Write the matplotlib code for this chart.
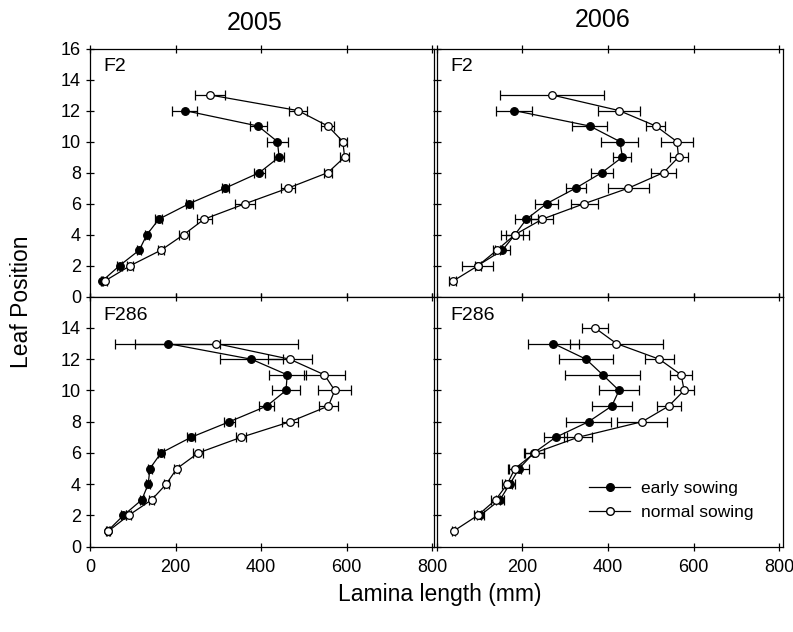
import matplotlib
matplotlib.use('Agg')
import matplotlib.pyplot as plt
from matplotlib.lines import Line2D
import numpy as np

plt.rcParams['font.family'] = ['Liberation Sans', 'DejaVu Sans']

# leaf positions
pos13 = [1, 2, 3, 4, 5, 6, 7, 8, 9, 10, 11, 12, 13]
pos12 = [1, 2, 3, 4, 5, 6, 7, 8, 9, 10, 11, 12]
pos14 = [1, 2, 3, 4, 5, 6, 7, 8, 9, 10, 11, 12, 13, 14]

# 2005, F2
f2_05_early = [28, 69, 115, 133, 161, 232, 316, 396, 442, 438, 393, 221]
f2_05_early_se = [3, 5, 5, 5, 8, 8, 8, 12, 11, 25, 20, 30]
f2_05_normal = [34, 94, 166, 219, 267, 363, 463, 556, 595, 591, 556, 486, 281]
f2_05_normal_se = [5, 7, 7, 12, 17, 23, 16, 9, 10, 10, 15, 22, 35]

# 2006, F2 (early sowing has no leaf 1 value)
f2_06_early = [96, 154, 183, 210, 257, 325, 386, 434, 428, 358, 181]
f2_06_early_se = [37, 17, 33, 26, 27, 23, 26, 21, 43, 41, 43]
f2_06_normal = [38, 97, 141, 183, 247, 345, 448, 530, 565, 561, 512, 426, 270]
f2_06_normal_se = [8, 8, 8, 20, 26, 31, 47, 30, 21, 38, 22, 49, 121]

# 2005, F286
f286_05_early = [41, 78, 121, 136, 140, 166, 236, 326, 413, 458, 461, 377, 182]
f286_05_early_se = [4, 5, 5, 5, 5, 8, 9, 12, 17, 33, 43, 74, 123]
f286_05_normal = [43, 90, 144, 178, 203, 253, 353, 468, 557, 572, 548, 467, 295]
f286_05_normal_se = [4, 5, 6, 6, 6, 12, 12, 19, 22, 39, 49, 52, 190]

# 2006, F286
f286_06_early = [102, 148, 171, 193, 227, 278, 355, 409, 426, 388, 349, 273]
f286_06_early_se = [8, 10, 12, 23, 23, 27, 52, 47, 46, 87, 63, 60]
f286_06_normal = [40, 96, 138, 165, 183, 229, 330, 480, 542, 578, 571, 520, 420, 370]
f286_06_normal_se = [4, 8, 10, 12, 15, 23, 33, 58, 28, 23, 25, 34, 109, 31]

W, H = 793, 632
fig = plt.figure(figsize=(W / 100, H / 100), dpi=100)


def px_axes(x0, y0, x1, y1):
    return fig.add_axes([x0 / W, 1 - y1 / H, (x1 - x0) / W, (y1 - y0) / H])


ax_tl = px_axes(90, 48.5, 434, 296.7)
ax_tr = px_axes(436.5, 48.5, 782.7, 296.7)
ax_bl = px_axes(90, 296.7, 434, 546.7)
ax_br = px_axes(436.5, 296.7, 782.7, 546.7)

MS = 5.5


def draw(ax, yrs_e, e, e_se, yrs_n, n, n_se):
    kw = dict(color='black', lw=0.9, ms=MS, elinewidth=0.9, capsize=3.5,
              capthick=0.9, markeredgewidth=0.9)
    ax.errorbar(e, yrs_e, xerr=e_se, marker='o', mfc='black', mec='black',
                zorder=3, **kw)
    ax.errorbar(n, yrs_n, xerr=n_se, marker='o', mfc='white', mec='black',
                zorder=4, **kw)


draw(ax_tl, pos12, f2_05_early, f2_05_early_se, pos13, f2_05_normal, f2_05_normal_se)
draw(ax_tr, pos12[1:], f2_06_early, f2_06_early_se, pos13, f2_06_normal, f2_06_normal_se)
draw(ax_bl, pos13, f286_05_early, f286_05_early_se, pos13, f286_05_normal, f286_05_normal_se)
draw(ax_br, pos13[1:], f286_06_early, f286_06_early_se, pos14, f286_06_normal, f286_06_normal_se)

for ax in [ax_tl, ax_tr, ax_bl, ax_br]:
    ax.set_ylim(0, 16)
    ax.set_yticks(np.arange(0, 17, 2))
    ax.set_xticks(np.arange(0, 801, 200))
    ax.tick_params(direction='inout', length=6, width=0.9, labelsize=13,
                   top=True, right=False)
    for s in ax.spines.values():
        s.set_linewidth(0.9)

ax_tl.set_xlim(0, 804)
ax_bl.set_xlim(0, 804)
ax_tr.set_xlim(0, 808)
ax_br.set_xlim(0, 808)

ax_tl.tick_params(labelbottom=False)
ax_tr.tick_params(labelbottom=False, labelleft=False)
ax_br.tick_params(labelleft=False)
ax_bl.set_yticks(np.arange(0, 15, 2))
ax_br.set_yticks(np.arange(0, 15, 2))
ax_br.set_xticks(np.arange(200, 801, 200))
ax_br.set_xticks([0], minor=True)
ax_br.tick_params(which='minor', direction='inout', length=6, width=0.9)
for ax in [ax_bl, ax_br]:
    ax.tick_params(axis='x', pad=6)

for ax, lab in [(ax_tl, 'F2'), (ax_tr, 'F2'), (ax_bl, 'F286'), (ax_br, 'F286')]:
    ax.text(0.04, 0.96, lab, transform=ax.transAxes, ha='left', va='top',
            fontsize=14)

handles = [
    Line2D([], [], color='black', lw=0.9, marker='o', ms=MS, mfc='black',
           mec='black', label='early sowing'),
    Line2D([], [], color='black', lw=0.9, marker='o', ms=MS, mfc='white',
           mec='black', label='normal sowing'),
]
ax_br.legend(handles=handles, loc='upper left', bbox_to_anchor=(0.44, 0.265),
             frameon=False, fontsize=12.5, handlelength=2.4,
             handletextpad=0.6, labelspacing=0.55, borderpad=0,
             borderaxespad=0)

fig.text(255 / W, 1 - 23 / H, '2005', ha='center', va='center', fontsize=18)
fig.text(603 / W, 1 - 20 / H, '2006', ha='center', va='center', fontsize=18)
fig.text(22 / W, 1 - 302 / H, 'Leaf Position', ha='center', va='center',
         rotation=90, fontsize=16.5)
fig.text(440 / W, 1 - 594 / H, 'Lamina length (mm)', ha='center',
         va='center', fontsize=16.5)

fig.savefig('out.png', dpi=100)
